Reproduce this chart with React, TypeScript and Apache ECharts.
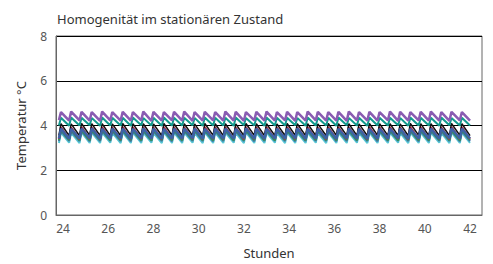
import React, { useEffect, useRef } from "react";
import * as echarts from "echarts";

const xTickLabels = [24, 26, 28, 30, 32, 34, 36, 38, 40, 42];
const yTicks = [0, 2, 4, 6, 8];

const troughTimes = [
  23.82, 24.27, 24.73, 25.18, 25.64, 26.09, 26.55, 27.0, 27.46, 27.91,
  28.37, 28.82, 29.27, 29.73, 30.18, 30.64, 31.09, 31.55, 32.0, 32.46,
  32.91, 33.37, 33.82, 34.27, 34.73, 35.18, 35.64, 36.09, 36.55, 37.0,
  37.46, 37.91, 38.37, 38.82, 39.27, 39.73, 40.18, 40.64, 41.09, 41.55, 42.0,
];
const peakTimes = [
  23.91, 24.36, 24.82, 25.27, 25.73, 26.18, 26.64, 27.09, 27.55, 28.0,
  28.46, 28.91, 29.36, 29.82, 30.27, 30.73, 31.18, 31.64, 32.09, 32.55,
  33.0, 33.46, 33.91, 34.36, 34.82, 35.27, 35.73, 36.18, 36.64, 37.09,
  37.55, 38.0, 38.46, 38.91, 39.36, 39.82, 40.27, 40.73, 41.18, 41.64,
];

const purplePeaks = [
  4.6, 4.62, 4.61, 4.6, 4.62, 4.6, 4.61, 4.6, 4.62, 4.61,
  4.6, 4.61, 4.62, 4.6, 4.61, 4.6, 4.62, 4.61, 4.6, 4.61,
  4.62, 4.6, 4.61, 4.6, 4.62, 4.61, 4.6, 4.61, 4.62, 4.6,
  4.61, 4.6, 4.62, 4.61, 4.6, 4.61, 4.62, 4.6, 4.61, 4.6,
];
const purpleTroughs = [
  4.24, 4.22, 4.23, 4.22, 4.21, 4.23, 4.22, 4.22, 4.23, 4.21,
  4.22, 4.23, 4.22, 4.21, 4.22, 4.23, 4.22, 4.22, 4.21, 4.23,
  4.22, 4.22, 4.23, 4.21, 4.22, 4.23, 4.22, 4.22, 4.21, 4.23,
  4.22, 4.22, 4.23, 4.21, 4.22, 4.23, 4.22, 4.22, 4.21, 4.23, 4.22,
];
const tealPeaks = [
  4.35, 4.36, 4.35, 4.34, 4.36, 4.35, 4.35, 4.36, 4.34, 4.35,
  4.36, 4.35, 4.35, 4.34, 4.36, 4.35, 4.35, 4.36, 4.34, 4.35,
  4.36, 4.35, 4.35, 4.34, 4.36, 4.35, 4.35, 4.36, 4.34, 4.35,
  4.36, 4.35, 4.35, 4.34, 4.36, 4.35, 4.35, 4.36, 4.34, 4.35,
];
const tealTroughs = [
  4.0, 3.99, 4.0, 4.01, 3.99, 4.0, 4.0, 3.99, 4.01, 4.0,
  3.99, 4.0, 4.0, 4.01, 3.99, 4.0, 4.0, 3.99, 4.01, 4.0,
  3.99, 4.0, 4.0, 4.01, 3.99, 4.0, 4.0, 3.99, 4.01, 4.0,
  3.99, 4.0, 4.0, 4.01, 3.99, 4.0, 4.0, 3.99, 4.01, 4.0, 4.0,
];
const blackPeaks = [
  4.08, 4.07, 4.09, 4.08, 4.08, 4.07, 4.09, 4.08, 4.08, 4.07,
  4.09, 4.08, 4.08, 4.07, 4.09, 4.08, 4.08, 4.07, 4.09, 4.08,
  4.08, 4.07, 4.09, 4.08, 4.08, 4.07, 4.09, 4.08, 4.08, 4.07,
  4.09, 4.08, 4.08, 4.07, 4.09, 4.08, 4.08, 4.07, 4.09, 4.08,
];
const blackTroughs = [
  3.56, 3.55, 3.54, 3.56, 3.55, 3.55, 3.54, 3.56, 3.55, 3.55,
  3.54, 3.56, 3.55, 3.55, 3.54, 3.56, 3.55, 3.55, 3.54, 3.56,
  3.55, 3.55, 3.54, 3.56, 3.55, 3.55, 3.54, 3.56, 3.55, 3.55,
  3.54, 3.56, 3.55, 3.55, 3.54, 3.56, 3.55, 3.55, 3.54, 3.56, 3.55,
];
const crimsonPeaks = [
  3.92, 3.91, 3.93, 3.92, 3.92, 3.91, 3.93, 3.92, 3.92, 3.91,
  3.93, 3.92, 3.92, 3.91, 3.93, 3.92, 3.92, 3.91, 3.93, 3.92,
  3.92, 3.91, 3.93, 3.92, 3.92, 3.91, 3.93, 3.92, 3.92, 3.91,
  3.93, 3.92, 3.92, 3.91, 3.93, 3.92, 3.92, 3.91, 3.93, 3.92,
];
const crimsonTroughs = [
  3.4, 3.41, 3.39, 3.4, 3.4, 3.41, 3.39, 3.4, 3.4, 3.41,
  3.39, 3.4, 3.4, 3.41, 3.39, 3.4, 3.4, 3.41, 3.39, 3.4,
  3.4, 3.41, 3.39, 3.4, 3.4, 3.41, 3.39, 3.4, 3.4, 3.41,
  3.39, 3.4, 3.4, 3.41, 3.39, 3.4, 3.4, 3.41, 3.39, 3.4, 3.4,
];
const greenPeaks = [
  3.8, 3.81, 3.79, 3.8, 3.8, 3.81, 3.79, 3.8, 3.8, 3.81,
  3.79, 3.8, 3.8, 3.81, 3.79, 3.8, 3.8, 3.81, 3.79, 3.8,
  3.8, 3.81, 3.79, 3.8, 3.8, 3.81, 3.79, 3.8, 3.8, 3.81,
  3.79, 3.8, 3.8, 3.81, 3.79, 3.8, 3.8, 3.81, 3.79, 3.8,
];
const greenTroughs = [
  3.34, 3.35, 3.34, 3.33, 3.35, 3.34, 3.34, 3.35, 3.34, 3.33,
  3.35, 3.34, 3.34, 3.35, 3.34, 3.33, 3.35, 3.34, 3.34, 3.35,
  3.34, 3.33, 3.35, 3.34, 3.34, 3.35, 3.34, 3.33, 3.35, 3.34,
  3.34, 3.35, 3.34, 3.33, 3.35, 3.34, 3.34, 3.35, 3.34, 3.33, 3.35,
];
const steelPeaks = [
  3.86, 3.85, 3.86, 3.87, 3.85, 3.86, 3.86, 3.85, 3.87, 3.86,
  3.85, 3.86, 3.86, 3.87, 3.85, 3.86, 3.86, 3.85, 3.87, 3.86,
  3.85, 3.86, 3.86, 3.87, 3.85, 3.86, 3.86, 3.85, 3.87, 3.86,
  3.85, 3.86, 3.86, 3.87, 3.85, 3.86, 3.86, 3.85, 3.87, 3.86,
];
const steelTroughs = [
  3.42, 3.41, 3.42, 3.43, 3.41, 3.42, 3.42, 3.41, 3.43, 3.42,
  3.41, 3.42, 3.42, 3.43, 3.41, 3.42, 3.42, 3.41, 3.43, 3.42,
  3.41, 3.42, 3.42, 3.43, 3.41, 3.42, 3.42, 3.41, 3.43, 3.42,
  3.41, 3.42, 3.42, 3.43, 3.41, 3.42, 3.42, 3.41, 3.43, 3.42, 3.42,
];
const bluePeaks = [
  3.75, 3.74, 3.76, 3.75, 3.75, 3.74, 3.76, 3.75, 3.75, 3.74,
  3.76, 3.75, 3.75, 3.74, 3.76, 3.75, 3.75, 3.74, 3.76, 3.75,
  3.75, 3.74, 3.76, 3.75, 3.75, 3.74, 3.76, 3.75, 3.75, 3.74,
  3.76, 3.75, 3.75, 3.74, 3.76, 3.75, 3.75, 3.74, 3.76, 3.75,
];
const blueTroughs = [
  3.3, 3.31, 3.3, 3.29, 3.3, 3.31, 3.3, 3.29, 3.3, 3.31,
  3.3, 3.29, 3.3, 3.31, 3.3, 3.29, 3.3, 3.31, 3.3, 3.29,
  3.3, 3.31, 3.3, 3.29, 3.3, 3.31, 3.3, 3.29, 3.3, 3.31,
  3.3, 3.29, 3.3, 3.31, 3.3, 3.29, 3.3, 3.31, 3.3, 3.29, 3.3,
];
const cyanPeaks = [
  3.68, 3.67, 3.69, 3.68, 3.68, 3.67, 3.69, 3.68, 3.68, 3.67,
  3.69, 3.68, 3.68, 3.67, 3.69, 3.68, 3.68, 3.67, 3.69, 3.68,
  3.68, 3.67, 3.69, 3.68, 3.68, 3.67, 3.69, 3.68, 3.68, 3.67,
  3.69, 3.68, 3.68, 3.67, 3.69, 3.68, 3.68, 3.67, 3.69, 3.68,
];
const cyanTroughs = [
  3.22, 3.23, 3.21, 3.22, 3.22, 3.23, 3.21, 3.22, 3.22, 3.23,
  3.21, 3.22, 3.22, 3.23, 3.21, 3.22, 3.22, 3.23, 3.21, 3.22,
  3.22, 3.23, 3.21, 3.22, 3.22, 3.23, 3.21, 3.22, 3.22, 3.23,
  3.21, 3.22, 3.22, 3.23, 3.21, 3.22, 3.22, 3.23, 3.21, 3.22, 3.22,
];

const seriesDefs = [
  { name: "Sensor 1", color: "#56c8d4", width: 2, peaks: cyanPeaks, troughs: cyanTroughs },
  { name: "Sensor 2", color: "#4a70b0", width: 2, peaks: bluePeaks, troughs: blueTroughs },
  { name: "Sensor 3", color: "#2f9a55", width: 2, peaks: greenPeaks, troughs: greenTroughs },
  { name: "Sensor 5", color: "#c8203c", width: 2, peaks: crimsonPeaks, troughs: crimsonTroughs },
  { name: "Sensor 8", color: "#111111", width: 1.5, peaks: blackPeaks, troughs: blackTroughs },
  { name: "Sensor 4", color: "#3d62a6", width: 2.5, peaks: steelPeaks, troughs: steelTroughs },
  { name: "Sensor 6", color: "#139a8e", width: 2, peaks: tealPeaks, troughs: tealTroughs },
  { name: "Sensor 7", color: "#8a5cb2", width: 2.5, peaks: purplePeaks, troughs: purpleTroughs },
];

function buildData(peaks: number[], troughs: number[]) {
  const out: [number, number][] = [];
  for (let i = 0; i < troughTimes.length; i++) {
    out.push([troughTimes[i], troughs[i]]);
    if (i < peakTimes.length) out.push([peakTimes[i], peaks[i]]);
  }
  return out;
}

const FONT = "Noto Sans";

export default function App() {
  const ref = useRef<HTMLDivElement>(null);
  useEffect(() => {
    if (!ref.current) return;
    const chart = echarts.init(ref.current, undefined, { renderer: "svg" });
    chart.setOption({
      animation: false,
      backgroundColor: "#ffffff",
      title: {
        text: "Homogenität im stationären Zustand",
        left: 52,
        top: 7,
        textStyle: { fontFamily: FONT, fontSize: 13, fontWeight: "normal", color: "#333333" },
      },
      grid: {
        left: 56,
        right: 11,
        top: 36,
        bottom: 48,
        show: true,
        borderColor: "#666666",
        borderWidth: 1,
        backgroundColor: "transparent",
      },
      xAxis: {
        type: "value",
        min: 23.69,
        max: 42.53,
        name: "Stunden",
        nameLocation: "middle",
        nameGap: 31,
        nameTextStyle: { fontFamily: FONT, fontSize: 13, color: "#333333" },
        axisLine: { show: true, lineStyle: { color: "#666666" } },
        axisTick: { show: false },
        splitLine: { show: false },
        axisLabel: {
          customValues: xTickLabels,
          fontFamily: FONT,
          fontSize: 12,
          color: "#555555",
          margin: 7,
        },
      },
      yAxis: {
        type: "value",
        min: 0,
        max: 8,
        interval: 2,
        name: "Temperatur °C",
        nameLocation: "middle",
        nameGap: 29,
        nameTextStyle: { fontFamily: FONT, fontSize: 13, color: "#333333" },
        axisLine: { show: true, lineStyle: { color: "#666666" } },
        axisTick: { show: false },
        splitLine: { show: true, lineStyle: { color: "#000000", width: 1 } },
        axisLabel: {
          customValues: yTicks,
          fontFamily: FONT,
          fontSize: 12,
          color: "#555555",
          margin: 9,
        },
      },
      series: seriesDefs.map((s) => ({
        name: s.name,
        type: "line",
        data: buildData(s.peaks, s.troughs),
        showSymbol: false,
        symbol: "none",
        lineStyle: { color: s.color, width: s.width },
        itemStyle: { color: s.color },
      })),
    });
    return () => chart.dispose();
  }, []);
  return <div ref={ref} style={{ width: 493, height: 264, position: "absolute", left: 0, top: 0 }} />;
}
